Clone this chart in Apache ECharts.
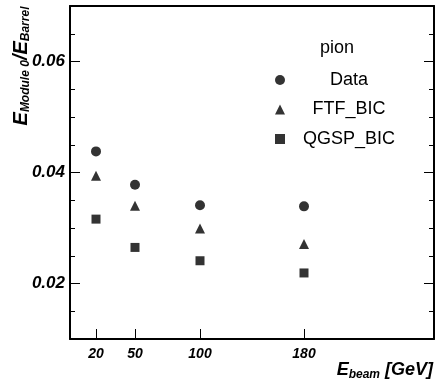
<!DOCTYPE html>
<html>
<head>
<meta charset="utf-8">
<script src="https://cdn.jsdelivr.net/npm/echarts@6/dist/echarts.min.js"></script>
<style>
html,body{margin:0;padding:0;background:#fff;}
#chart{width:437px;height:382px;}
</style>
</head>
<body>
<div id="chart"></div>
<script>
const energies = [20, 50, 100, 180];
const dataVals = [0.0438, 0.0378, 0.0341, 0.0339];
const ftfVals = [0.0394, 0.0340, 0.0299, 0.0271];
const qgspVals = [0.0316, 0.0265, 0.0241, 0.0219];
const seriesNames = ['Data', 'FTF_BIC', 'QGSP_BIC'];
const xTickValues = [20, 50, 100, 180];
const yMajorTicks = [0.02, 0.04, 0.06];
const yMinorTicks = [0.015, 0.025, 0.03, 0.035, 0.045, 0.05, 0.055, 0.065];

const FONT = '"Liberation Sans", Arial, Helvetica, sans-serif';
const pairs = vals => energies.map((e, i) => [e, vals[i]]);

const chart = echarts.init(document.getElementById('chart'), null, {renderer: 'canvas'});

function yAx(pos, ticks, len, showLine, showLabel) {
  return {
    type: 'value', position: pos, min: 0.01, max: 0.07,
    axisLine: {show: showLine, onZero: false, lineStyle: {color: '#000', width: 2}},
    axisTick: {show: true, inside: true, length: len, customValues: ticks, lineStyle: {color: '#000', width: 1}},
    axisLabel: showLabel ? {
      show: true, customValues: yMajorTicks, margin: 5,
      formatter: v => v.toFixed(2),
      fontFamily: FONT, fontSize: 17, fontWeight: 'bold', fontStyle: 'italic', color: '#000'
    } : {show: false},
    splitLine: {show: false}
  };
}

const option = {
  animation: false,
  backgroundColor: '#fff',
  grid: {left: 70, right: 3, top: 6, bottom: 43},
  xAxis: [
    {
      type: 'value', position: 'bottom', min: 0, max: 280,
      axisLine: {show: true, onZero: false, lineStyle: {color: '#000', width: 2}},
      axisTick: {show: true, inside: true, length: 10, customValues: xTickValues, lineStyle: {color: '#000', width: 1}},
      axisLabel: {
        show: true, customValues: xTickValues, margin: 8,
        fontFamily: FONT, fontSize: 14, fontWeight: 'bold', fontStyle: 'italic', color: '#000'
      },
      splitLine: {show: false}
    },
    {
      type: 'value', position: 'top', min: 0, max: 280,
      axisLine: {show: true, onZero: false, lineStyle: {color: '#000', width: 2}},
      axisTick: {show: false}, axisLabel: {show: false}, splitLine: {show: false}
    }
  ],
  yAxis: [
    yAx('left', yMajorTicks, 10, true, true),
    yAx('left', yMinorTicks, 5, false, false),
    yAx('right', yMajorTicks, 10, true, false),
    yAx('right', yMinorTicks, 5, false, false)
  ],
  legend: {
    orient: 'vertical',
    left: 270, top: 65,
    itemWidth: 10, itemHeight: 10, itemGap: 9.5,
    data: [
      {name: seriesNames[0], icon: 'circle'},
      {name: seriesNames[1], icon: 'triangle'},
      {name: seriesNames[2], icon: 'rect'}
    ],
    formatter: n => '{t|' + n + '}',
    textStyle: {
      color: '#000',
      rich: {t: {width: 118, align: 'center', fontFamily: FONT, fontSize: 18, color: '#000', height: 20, lineHeight: 20}}
    },
    selectedMode: false
  },
  graphic: [
    {
      type: 'text', x: 337, y: 48,
      style: {text: 'pion', fontFamily: FONT, fontSize: 18, fill: '#000', align: 'center', verticalAlign: 'middle'}
    },
    {
      type: 'text', x: 21, y: 66, rotation: Math.PI / 2,
      style: {
        text: '{e|E}{s|Module 0}{e|/E}{s|Barrel}',
        align: 'center', verticalAlign: 'middle',
        rich: {
          e: {fontFamily: FONT, fontSize: 20, fontWeight: 'bold', fontStyle: 'italic', fill: '#000', lineHeight: 22, verticalAlign: 'middle'},
          s: {fontFamily: FONT, fontSize: 12, fontWeight: 'bold', fontStyle: 'italic', fill: '#000', lineHeight: 12, verticalAlign: 'bottom'}
        }
      }
    },
    {
      type: 'text', x: 433, y: 370,
      style: {
        text: '{e|E}{s|beam}{e| [GeV]}',
        align: 'right', verticalAlign: 'middle',
        rich: {
          e: {fontFamily: FONT, fontSize: 18, fontWeight: 'bold', fontStyle: 'italic', fill: '#000', lineHeight: 22, verticalAlign: 'middle'},
          s: {fontFamily: FONT, fontSize: 12, fontWeight: 'bold', fontStyle: 'italic', fill: '#000', lineHeight: 12, verticalAlign: 'bottom'}
        }
      }
    }
  ],
  series: [
    {name: seriesNames[0], type: 'scatter', symbol: 'circle', symbolSize: 10, data: pairs(dataVals), itemStyle: {color: '#000'}},
    {name: seriesNames[1], type: 'scatter', symbol: 'triangle', symbolSize: 10, data: pairs(ftfVals), itemStyle: {color: '#000'}},
    {name: seriesNames[2], type: 'scatter', symbol: 'rect', symbolSize: 9, data: pairs(qgspVals), itemStyle: {color: '#000'}}
  ]
};
chart.setOption(option);
</script>
</body>
</html>
